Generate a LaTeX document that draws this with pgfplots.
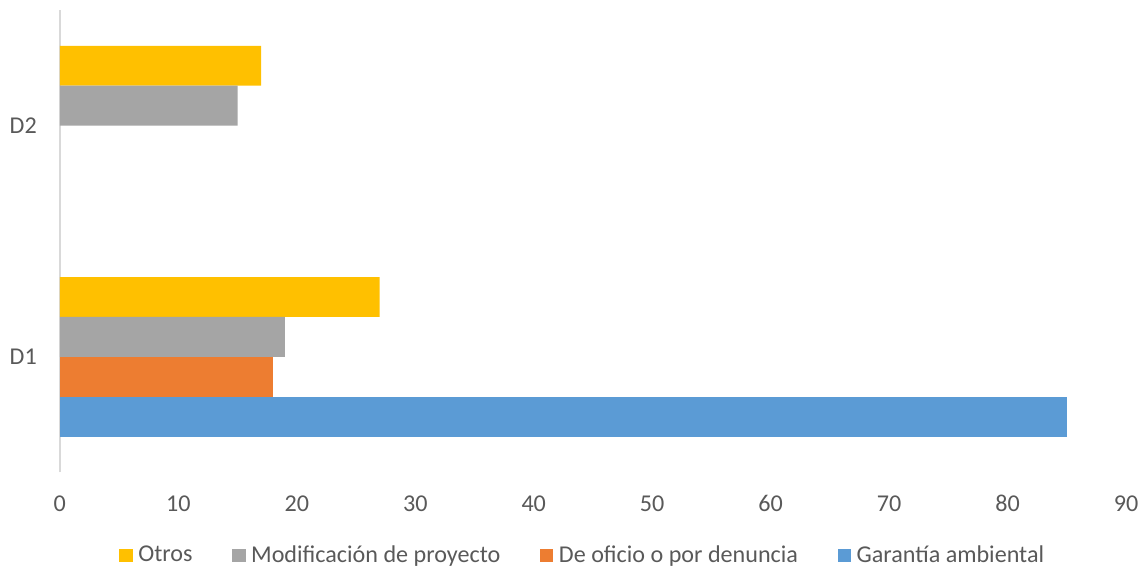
\documentclass[border=0pt]{standalone}
\usepackage{pgfplots}
\pgfplotsset{compat=1.18}
\usepackage{fontspec}
\setmainfont{Carlito}

\definecolor{cOtros}{HTML}{FFC000}
\definecolor{cModif}{HTML}{A5A5A5}
\definecolor{cOficio}{HTML}{ED7D31}
\definecolor{cGarantia}{HTML}{5B9BD5}
\definecolor{txt}{HTML}{595959}
\definecolor{axisgray}{HTML}{D9D9D9}

\begin{document}
\begin{tikzpicture}
\path (0,0) rectangle (572.5pt,287pt);
\begin{axis}[
    at={(30pt,50pt)}, anchor=south west,
    scale only axis,
    width=535pt, height=232pt,
    xbar,
    bar width=0.1724,
    xmin=0, xmax=90,
    ymin=-0.5, ymax=1.5,
    xtick={0,10,...,90},
    ytick={0,1},
    yticklabels={D1,D2},
    major tick length=0pt,
    axis y line*=left,
    axis x line*=bottom,
    x axis line style={draw=none},
    y axis line style={draw=axisgray, line width=0.8pt},
    tick label style={font=\fontsize{12.1}{14}\selectfont, text=txt},
    /pgf/number format/assume math mode=true,
    xticklabel style={yshift=-8pt},
    yticklabel style={xshift=-8pt},
    legend columns=4,
    legend style={
        at={(0.492,-0.18)}, anchor=center,
        draw=none, fill=none,
        font=\fontsize{12.1}{14}\selectfont, text=txt,
        /tikz/every even column/.append style={column sep=17pt},
        nodes={inner sep=2.8pt},
    },
    legend image code/.code={\fill[#1] (0pt,-3.4pt) rectangle (6.8pt,3.4pt);},
]
\addplot[fill=cOtros, draw=none, bar shift=0.2586] coordinates {(27,0) (17,1)};
\addlegendentry{Otros}
\addplot[fill=cModif, draw=none, bar shift=0.0862] coordinates {(19,0) (15,1)};
\addlegendentry{Modificación de proyecto}
\addplot[fill=cOficio, draw=none, bar shift=-0.0862] coordinates {(18,0)};
\addlegendentry{De oficio o por denuncia}
\addplot[fill=cGarantia, draw=none, bar shift=-0.2586] coordinates {(85,0)};
\addlegendentry{Garantía ambiental}
\end{axis}
\end{tikzpicture}
\end{document}
